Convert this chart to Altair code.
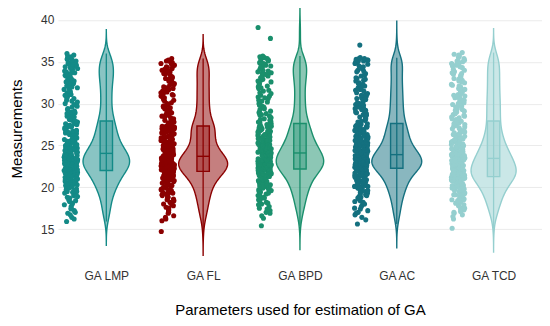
import altair as alt
import pandas as pd

categories = ["GA LMP", "GA FL", "GA BPD", "GA AC", "GA TCD"]
colors = ["#138a87", "#8b0000", "#1a8f6c", "#14707f", "#95cfcf"]

ga_lmp = [
    15.9,
    16.2, 16.4, 16.7, 16.9,
    17.0, 17.2, 17.4, 17.5, 17.7, 17.9,
    18.0, 18.1, 18.3, 18.4, 18.5, 18.7, 18.8, 18.9,
    19.0, 19.1, 19.2, 19.3, 19.4, 19.5, 19.5, 19.6, 19.7, 19.8, 19.9, 19.9,
    20.0, 20.0, 20.1, 20.1, 20.2, 20.3, 20.3, 20.4, 20.5, 20.5, 20.6, 20.6, 20.7, 20.7, 20.8, 20.8, 20.9, 20.9,
    21.0, 21.0, 21.1, 21.1, 21.2, 21.2, 21.3, 21.3, 21.3, 21.4, 21.4, 21.5, 21.5, 21.5, 21.6, 21.6, 21.7, 21.7,
    21.8, 21.8, 21.8, 21.9, 21.9, 21.9,
    22.0, 22.0, 22.0, 22.1, 22.1, 22.1, 22.2, 22.2, 22.2, 22.3, 22.3, 22.3, 22.4, 22.4, 22.4, 22.4, 22.5, 22.5,
    22.5, 22.5, 22.6, 22.6, 22.6, 22.6, 22.7, 22.7, 22.7, 22.7, 22.8, 22.8, 22.8, 22.8, 22.9, 22.9, 22.9, 22.9,
    23.0, 23.0, 23.0, 23.0, 23.1, 23.1, 23.1, 23.1, 23.2, 23.2, 23.2, 23.2, 23.3, 23.3, 23.3, 23.3, 23.4, 23.4,
    23.4, 23.4, 23.5, 23.5, 23.5, 23.5, 23.6, 23.6, 23.6, 23.6, 23.7, 23.7, 23.7, 23.7, 23.8, 23.8, 23.8, 23.9,
    23.9, 23.9,
    24.0, 24.0, 24.0, 24.1, 24.1, 24.1, 24.2, 24.2, 24.2, 24.3, 24.3, 24.3, 24.4, 24.4, 24.4, 24.5, 24.5, 24.5,
    24.6, 24.6, 24.6, 24.7, 24.7, 24.7, 24.8, 24.8, 24.9, 24.9,
    25.0, 25.0, 25.1, 25.1, 25.2, 25.2, 25.3, 25.3, 25.4, 25.4, 25.5, 25.5, 25.6, 25.6, 25.7, 25.7, 25.8, 25.8,
    25.9, 25.9,
    26.0, 26.1, 26.1, 26.2, 26.3, 26.3, 26.4, 26.4, 26.5, 26.5, 26.6, 26.7, 26.7, 26.8, 26.9, 26.9,
    27.0, 27.1, 27.2, 27.2, 27.3, 27.4, 27.4, 27.5, 27.6, 27.6, 27.7, 27.8, 27.8, 27.9,
    28.0, 28.1, 28.2, 28.3, 28.4, 28.5, 28.6, 28.7, 28.8, 28.9,
    29.0, 29.1, 29.3, 29.4, 29.6, 29.7, 29.8, 29.9,
    30.0, 30.2, 30.3, 30.4, 30.6, 30.7, 30.8, 30.9,
    31.0, 31.1, 31.3, 31.4, 31.5, 31.7, 31.8, 31.9,
    32.0, 32.1, 32.2, 32.4, 32.5, 32.6, 32.7, 32.8, 32.9,
    33.0, 33.1, 33.2, 33.3, 33.4, 33.5, 33.5, 33.6, 33.7, 33.8, 33.9,
    34.0, 34.1, 34.2, 34.3, 34.4, 34.4, 34.5, 34.6, 34.7, 34.8, 34.9,
    35.0, 35.1, 35.2, 35.3, 35.4, 35.5, 35.6, 35.7, 35.8, 36.0,
]

ga_fl = [
    14.7,
    16.0, 16.2, 16.4, 16.6, 16.9,
    17.0, 17.2, 17.3, 17.5, 17.6, 17.8, 17.9,
    18.0, 18.1, 18.2, 18.4, 18.5, 18.6, 18.7, 18.8, 18.9,
    19.0, 19.1, 19.2, 19.3, 19.3, 19.4, 19.5, 19.6, 19.7, 19.7, 19.8, 19.9,
    20.0, 20.1, 20.2, 20.2, 20.3, 20.4, 20.4, 20.5, 20.5, 20.6, 20.6, 20.7, 20.8, 20.8, 20.9, 20.9,
    21.0, 21.0, 21.1, 21.1, 21.2, 21.2, 21.3, 21.3, 21.4, 21.4, 21.5, 21.5, 21.5, 21.6, 21.6, 21.6, 21.7, 21.7,
    21.7, 21.7, 21.8, 21.8, 21.8, 21.8, 21.9, 21.9,
    22.0, 22.0, 22.0, 22.0, 22.1, 22.1, 22.1, 22.1, 22.2, 22.2, 22.2, 22.2, 22.3, 22.3, 22.3, 22.3, 22.4, 22.4,
    22.4, 22.4, 22.5, 22.5, 22.5, 22.5, 22.6, 22.6, 22.6, 22.6, 22.7, 22.7, 22.7, 22.7, 22.8, 22.8, 22.8, 22.8,
    22.9, 22.9, 22.9, 22.9,
    23.0, 23.0, 23.0, 23.0, 23.0, 23.1, 23.1, 23.1, 23.1, 23.1, 23.2, 23.2, 23.2, 23.2, 23.2, 23.3, 23.3, 23.3,
    23.3, 23.3, 23.4, 23.4, 23.4, 23.4, 23.4, 23.5, 23.5, 23.5, 23.5, 23.5, 23.6, 23.6, 23.6, 23.7, 23.7, 23.7,
    23.8, 23.8, 23.9, 23.9,
    24.0, 24.0, 24.1, 24.1, 24.2, 24.2, 24.3, 24.3, 24.3, 24.4, 24.4, 24.5, 24.5, 24.6, 24.6, 24.6, 24.7, 24.7,
    24.8, 24.8, 24.9, 24.9,
    25.0, 25.0, 25.1, 25.1, 25.2, 25.2, 25.3, 25.4, 25.4, 25.5, 25.5, 25.6, 25.6, 25.7, 25.7, 25.8, 25.9, 25.9,
    26.0, 26.1, 26.2, 26.2, 26.3, 26.4, 26.4, 26.5, 26.6, 26.6, 26.7, 26.8, 26.8, 26.9,
    27.0, 27.0, 27.0, 27.0, 27.1, 27.1, 27.1, 27.1, 27.2, 27.2, 27.2, 27.2, 27.3, 27.3, 27.3,
    27.4, 27.5, 27.6, 27.7, 27.8, 27.9,
    28.0, 28.1, 28.2, 28.3, 28.4, 28.5, 28.6, 28.7, 28.8, 28.9,
    29.0, 29.1, 29.2, 29.3, 29.4, 29.5, 29.6, 29.7, 29.8, 29.9,
    30.0, 30.1, 30.3, 30.4, 30.5, 30.7, 30.8, 30.9,
    31.0, 31.1, 31.2, 31.3, 31.4, 31.5, 31.6, 31.7, 31.8, 31.9,
    32.0, 32.2, 32.3, 32.4, 32.6, 32.7, 32.8, 32.9,
    33.0, 33.1, 33.2, 33.4, 33.5, 33.6, 33.7, 33.8, 33.9,
    34.0, 34.1, 34.2, 34.3, 34.4, 34.5, 34.6, 34.7, 34.8, 34.9,
    35.0, 35.1, 35.2, 35.4,
]

ga_bpd = [
    15.4,
    16.3, 16.6, 16.9,
    17.0, 17.2, 17.4, 17.5, 17.7, 17.9,
    18.0, 18.1, 18.2, 18.4, 18.5, 18.6, 18.7, 18.8, 18.9,
    19.0, 19.1, 19.2, 19.3, 19.4, 19.5, 19.5, 19.6, 19.7, 19.8, 19.9, 19.9,
    20.0, 20.1, 20.1, 20.2, 20.3, 20.3, 20.4, 20.5, 20.5, 20.6, 20.7, 20.7, 20.8, 20.8, 20.9, 20.9,
    21.0, 21.0, 21.1, 21.1, 21.2, 21.2, 21.3, 21.3, 21.4, 21.4, 21.5, 21.5, 21.6, 21.6, 21.7, 21.7, 21.8, 21.8,
    21.8, 21.9, 21.9, 21.9,
    22.0, 22.0, 22.0, 22.1, 22.1, 22.1, 22.2, 22.2, 22.2, 22.2, 22.3, 22.3, 22.3, 22.3, 22.4, 22.4, 22.4, 22.4,
    22.5, 22.5, 22.5, 22.5, 22.6, 22.6, 22.6, 22.6, 22.7, 22.7, 22.7, 22.7, 22.8, 22.8, 22.8, 22.8, 22.9, 22.9,
    22.9, 22.9,
    23.0, 23.0, 23.0, 23.0, 23.1, 23.1, 23.1, 23.1, 23.2, 23.2, 23.2, 23.2, 23.3, 23.3, 23.3, 23.3, 23.4, 23.4,
    23.4, 23.4, 23.5, 23.5, 23.5, 23.5, 23.6, 23.6, 23.6, 23.6, 23.7, 23.7, 23.7, 23.7, 23.8, 23.8, 23.8, 23.8,
    23.9, 23.9, 23.9, 23.9,
    24.0, 24.0, 24.1, 24.1, 24.2, 24.2, 24.2, 24.3, 24.3, 24.3, 24.4, 24.4, 24.4, 24.5, 24.5, 24.5, 24.6, 24.6,
    24.6, 24.7, 24.7, 24.7, 24.8, 24.8, 24.8, 24.9, 24.9, 24.9,
    25.0, 25.0, 25.1, 25.1, 25.2, 25.2, 25.3, 25.3, 25.3, 25.4, 25.4, 25.5, 25.5, 25.6, 25.6, 25.6, 25.7, 25.7,
    25.8, 25.8, 25.9, 25.9,
    26.0, 26.1, 26.1, 26.2, 26.3, 26.3, 26.4, 26.4, 26.5, 26.6, 26.6, 26.7, 26.7, 26.8, 26.8, 26.9,
    27.0, 27.0, 27.1, 27.1, 27.2, 27.2, 27.3, 27.3, 27.4, 27.5, 27.6, 27.6, 27.7, 27.8, 27.9,
    28.0, 28.1, 28.2, 28.3, 28.4, 28.5, 28.6, 28.7, 28.8, 28.9,
    29.0, 29.1, 29.3, 29.4, 29.6, 29.7, 29.8, 29.9,
    30.0, 30.2, 30.3, 30.4, 30.6, 30.7, 30.8, 30.9,
    31.0, 31.2, 31.3, 31.5, 31.6, 31.8, 31.9,
    32.0, 32.1, 32.3, 32.4, 32.6, 32.7, 32.8, 32.9,
    33.0, 33.1, 33.2, 33.3, 33.4, 33.5, 33.6, 33.7, 33.8, 33.9,
    34.0, 34.1, 34.2, 34.3, 34.4, 34.5, 34.5, 34.6, 34.7, 34.8, 34.9,
    35.0, 35.1, 35.2, 35.3, 35.4, 35.5, 35.6, 35.7,
    37.8, 39.1,
]

ga_ac = [
    15.6,
    16.1, 16.4, 16.7, 16.9,
    17.0, 17.2, 17.4, 17.5, 17.7, 17.9,
    18.0, 18.2, 18.3, 18.4, 18.6, 18.7, 18.8, 18.9,
    19.0, 19.1, 19.2, 19.3, 19.4, 19.5, 19.5, 19.6, 19.7, 19.8, 19.9, 19.9,
    20.0, 20.1, 20.1, 20.2, 20.3, 20.3, 20.4, 20.5, 20.5, 20.6, 20.7, 20.7, 20.8, 20.8, 20.9, 20.9,
    21.0, 21.0, 21.1, 21.1, 21.2, 21.2, 21.3, 21.3, 21.4, 21.4, 21.5, 21.5, 21.6, 21.6, 21.7, 21.7, 21.8, 21.8,
    21.9, 21.9,
    22.0, 22.0, 22.1, 22.1, 22.1, 22.2, 22.2, 22.2,
    22.3, 22.3, 22.3, 22.3, 22.3, 22.4, 22.4, 22.4, 22.4, 22.4, 22.5, 22.5, 22.5, 22.5, 22.5, 22.6, 22.6, 22.6,
    22.6, 22.6, 22.7, 22.7, 22.7, 22.7, 22.7, 22.8, 22.8, 22.8, 22.8, 22.8, 22.9, 22.9, 22.9, 22.9, 22.9,
    23.0, 23.0, 23.0, 23.0, 23.1, 23.1, 23.1, 23.1, 23.2, 23.2, 23.2, 23.2, 23.3, 23.3, 23.3, 23.3, 23.4, 23.4,
    23.4, 23.4, 23.5, 23.5, 23.5, 23.5, 23.6, 23.6, 23.6, 23.6, 23.7, 23.7, 23.7, 23.7, 23.8, 23.8, 23.8, 23.8,
    23.9, 23.9, 23.9, 23.9, 23.9,
    24.0, 24.0, 24.1, 24.1, 24.1, 24.2, 24.2, 24.2, 24.3, 24.3, 24.4, 24.4, 24.4, 24.5, 24.5, 24.5, 24.6, 24.6,
    24.7, 24.7, 24.7, 24.8, 24.8, 24.8, 24.9, 24.9,
    25.0, 25.0, 25.1, 25.1, 25.2, 25.2, 25.3, 25.3, 25.4, 25.4, 25.5, 25.5, 25.6, 25.6, 25.7, 25.7, 25.8, 25.8,
    25.9, 25.9,
    26.0, 26.1, 26.1, 26.2, 26.3, 26.3, 26.4, 26.4, 26.5, 26.5, 26.6, 26.7, 26.7, 26.8, 26.9, 26.9,
    27.0, 27.0, 27.1, 27.1, 27.2, 27.2, 27.3, 27.3, 27.4, 27.5, 27.6, 27.6, 27.7, 27.8, 27.9,
    28.0, 28.1, 28.2, 28.3, 28.4, 28.5, 28.6, 28.7, 28.8, 28.9,
    29.0, 29.1, 29.2, 29.3, 29.4, 29.5, 29.6, 29.7, 29.8, 29.9,
    30.0, 30.1, 30.2, 30.4, 30.5, 30.6, 30.7, 30.8, 30.9,
    31.0, 31.1, 31.2, 31.3, 31.5, 31.6, 31.7, 31.8, 31.9,
    32.0, 32.1, 32.3, 32.4, 32.5, 32.7, 32.8, 32.9,
    33.0, 33.1, 33.3, 33.4, 33.5, 33.6, 33.8, 33.9,
    34.0, 34.2, 34.3, 34.4, 34.5, 34.7, 34.8, 34.9,
    35.0, 35.1, 35.1, 35.2, 35.2, 35.3, 35.4, 35.4, 35.5,
    37.0,
]

ga_tcd = [
    15.1,
    16.2, 16.5, 16.7, 16.9,
    17.0, 17.1, 17.3, 17.4, 17.5, 17.6, 17.8, 17.9,
    18.0, 18.1, 18.2, 18.3, 18.4, 18.5, 18.5, 18.6, 18.7, 18.8, 18.9, 18.9,
    19.0, 19.1, 19.1, 19.2, 19.3, 19.3, 19.4, 19.5, 19.5, 19.6, 19.6, 19.7, 19.8, 19.8, 19.9, 19.9,
    20.0, 20.0, 20.1, 20.1, 20.2, 20.2, 20.2, 20.3, 20.3, 20.4, 20.4, 20.5, 20.5, 20.5, 20.6, 20.6, 20.7, 20.7,
    20.8, 20.8, 20.9, 20.9,
    21.0, 21.0, 21.0, 21.0, 21.1, 21.1, 21.1, 21.1, 21.2, 21.2, 21.2, 21.2,
    21.3, 21.3, 21.3, 21.3, 21.4, 21.4, 21.4, 21.4, 21.5, 21.5, 21.5, 21.5, 21.6, 21.6, 21.6, 21.6, 21.7, 21.7,
    21.7, 21.7, 21.8, 21.8, 21.8, 21.8, 21.9, 21.9, 21.9, 21.9,
    22.0, 22.0, 22.0, 22.1, 22.1, 22.1, 22.2, 22.2, 22.2, 22.2, 22.3, 22.3, 22.3, 22.4, 22.4, 22.4, 22.4, 22.5,
    22.5, 22.5, 22.5, 22.6, 22.6, 22.6, 22.7, 22.7, 22.7, 22.7, 22.8, 22.8, 22.8, 22.9, 22.9, 22.9,
    23.0, 23.0, 23.0, 23.1, 23.1, 23.1, 23.2, 23.2, 23.2, 23.3, 23.3, 23.4, 23.4,
    23.5, 23.5, 23.5, 23.6, 23.6, 23.6, 23.7, 23.7, 23.7, 23.8, 23.8, 23.8, 23.9, 23.9, 23.9,
    24.0, 24.0, 24.1, 24.1, 24.1, 24.2, 24.2, 24.3, 24.3, 24.4, 24.4, 24.4, 24.5, 24.5, 24.6, 24.6, 24.7, 24.7,
    24.8, 24.8, 24.9, 24.9,
    25.0, 25.1, 25.1, 25.2, 25.3, 25.3, 25.4, 25.4, 25.5, 25.6, 25.6, 25.7, 25.7, 25.8, 25.9, 25.9,
    26.0, 26.1, 26.2, 26.3, 26.3, 26.4, 26.5, 26.6, 26.6, 26.7, 26.8, 26.9,
    27.0, 27.1, 27.2, 27.3, 27.4, 27.5, 27.6, 27.7, 27.8, 27.9,
    28.0, 28.1, 28.2, 28.3, 28.4, 28.5, 28.6, 28.7, 28.8, 28.9,
    29.0, 29.1, 29.2, 29.3, 29.4, 29.5, 29.6, 29.7, 29.8, 29.9,
    30.0, 30.1, 30.2, 30.3, 30.4, 30.5, 30.6, 30.7, 30.8, 30.9,
    31.0, 31.1, 31.2, 31.4, 31.5, 31.6, 31.7, 31.8, 31.9,
    32.0, 32.1, 32.2, 32.3, 32.5, 32.6, 32.7, 32.8, 32.9,
    33.0, 33.1, 33.2, 33.4, 33.5, 33.6, 33.7, 33.8, 33.9,
    34.0, 34.1, 34.3, 34.4, 34.5, 34.6, 34.7, 34.8, 34.9,
    35.0, 35.1, 35.2, 35.4, 35.5, 35.7, 35.8, 35.9, 36.1,
]

series = [ga_lmp, ga_fl, ga_bpd, ga_ac, ga_tcd]
y_ticks = [15, 20, 25, 30, 35, 40]

rows = []
for ci, (cat, vals) in enumerate(zip(categories, series)):
    for i, v in enumerate(vals):
        rows.append({"cat": cat, "pos": ci + 1, "value": v, "idx": i})
df = pd.DataFrame(rows)

FONT = "Liberation Sans"
BW = 0.95          # kernel bandwidth
K = 2.1            # violin width scale (x units per density unit)
PT_OFF = -0.366    # points column offset
PT_SPREAD = 0.07   # jitter half-width
BOX_HW = 0.064     # box half width

xscale = alt.Scale(domain=[0.5, 5.5], nice=False, zero=False)
yscale = alt.Scale(domain=[11.8, 41.4], nice=False, zero=False)
label_expr = "['', 'GA LMP', 'GA FL', 'GA BPD', 'GA AC', 'GA TCD'][datum.value]"
xaxis = alt.Axis(values=[1, 2, 3, 4, 5], labelExpr=label_expr, grid=False,
                 ticks=False, domain=False, labelPadding=15, labelFontSize=12,
                 labelColor="#333333", title="Parameters used for estimation of GA",
                 titleFontSize=15, titleFontWeight="normal", titleColor="#000000",
                 titleY=58.5, titleBaseline="alphabetic")
yaxis = alt.Axis(values=y_ticks, grid=True, gridColor="#ebebeb", gridWidth=1,
                 ticks=False, domain=False, labelPadding=4, labelFontSize=12,
                 labelColor="#333333", title="Measurements", titleFontSize=15,
                 titleFontWeight="normal", titleColor="#000000", titleX=-41,
                 titleY=120.5, titleAngle=270, titleBaseline="middle",
                 titleAlign="center")

# deterministic hash-style jitter for horizontal spreading of the points
JIT = "((sin(datum.idx * 12.9898 + datum.pos * 78.233) * 43758.5453) - floor(sin(datum.idx * 12.9898 + datum.pos * 78.233) * 43758.5453))"

layers = []
for ci, (cat, vals, col) in enumerate(zip(categories, series, colors)):
    pos = ci + 1
    lo = min(vals) - 3 * BW
    hi = max(vals) + 3 * BW
    base = alt.Chart(df).transform_filter(alt.datum.cat == cat)

    pts = base.transform_calculate(
        px=f"{pos + PT_OFF} + ({JIT} * 2 - 1) * {PT_SPREAD}"
    ).mark_circle(size=26, opacity=1, color=col).encode(
        x=alt.X("px:Q", scale=xscale, axis=xaxis),
        y=alt.Y("value:Q", scale=yscale, axis=yaxis),
    )

    violin = base.transform_density(
        "value", as_=["value", "density"], bandwidth=BW, extent=[lo, hi], steps=200
    ).transform_calculate(
        xl=f"{pos} - datum.density * {K}", xr=f"{pos} + datum.density * {K}"
    ).mark_area(orient="horizontal", fill=col, fillOpacity=0.5, stroke=col,
                strokeWidth=1.4).encode(
        y=alt.Y("value:Q", scale=yscale, axis=yaxis),
        x=alt.X("xl:Q", scale=xscale, axis=xaxis),
        x2="xr:Q",
    )

    whisk = base.transform_joinaggregate(
        q1="q1(value)", q3="q3(value)"
    ).transform_filter(
        "datum.value >= datum.q1 - 1.5 * (datum.q3 - datum.q1) && datum.value <= datum.q3 + 1.5 * (datum.q3 - datum.q1)"
    ).transform_aggregate(
        wmin="min(value)", wmax="max(value)"
    ).transform_calculate(px=f"{pos}").mark_rule(color=col, strokeWidth=1.3).encode(
        x=alt.X("px:Q", scale=xscale, axis=xaxis),
        y=alt.Y("wmin:Q", scale=yscale, axis=yaxis),
        y2="wmax:Q",
    )

    stats = base.transform_aggregate(
        q1="q1(value)", med="median(value)", q3="q3(value)"
    ).transform_calculate(bl=f"{pos - BOX_HW}", br=f"{pos + BOX_HW}")

    box = stats.mark_rect(fill=col, fillOpacity=0.35, stroke=col, strokeWidth=1.4).encode(
        x=alt.X("bl:Q", scale=xscale, axis=xaxis),
        x2="br:Q",
        y=alt.Y("q1:Q", scale=yscale, axis=yaxis),
        y2="q3:Q",
    )
    med = stats.mark_rule(color=col, strokeWidth=1.4).encode(
        x=alt.X("bl:Q", scale=xscale, axis=xaxis),
        x2="br:Q",
        y=alt.Y("med:Q", scale=yscale, axis=yaxis),
    )
    layers += [pts, violin, whisk, box, med]

chart = alt.layer(*layers).properties(
    width=485, height=248,
    autosize=alt.AutoSizeParams(type="none"),
    padding={"left": 50, "top": 0, "right": 0, "bottom": 62},
).configure_view(stroke=None).configure_axis(
    labelFont=FONT, titleFont=FONT
)

chart.save("out.html", embed_options={"renderer": "svg", "actions": False})
